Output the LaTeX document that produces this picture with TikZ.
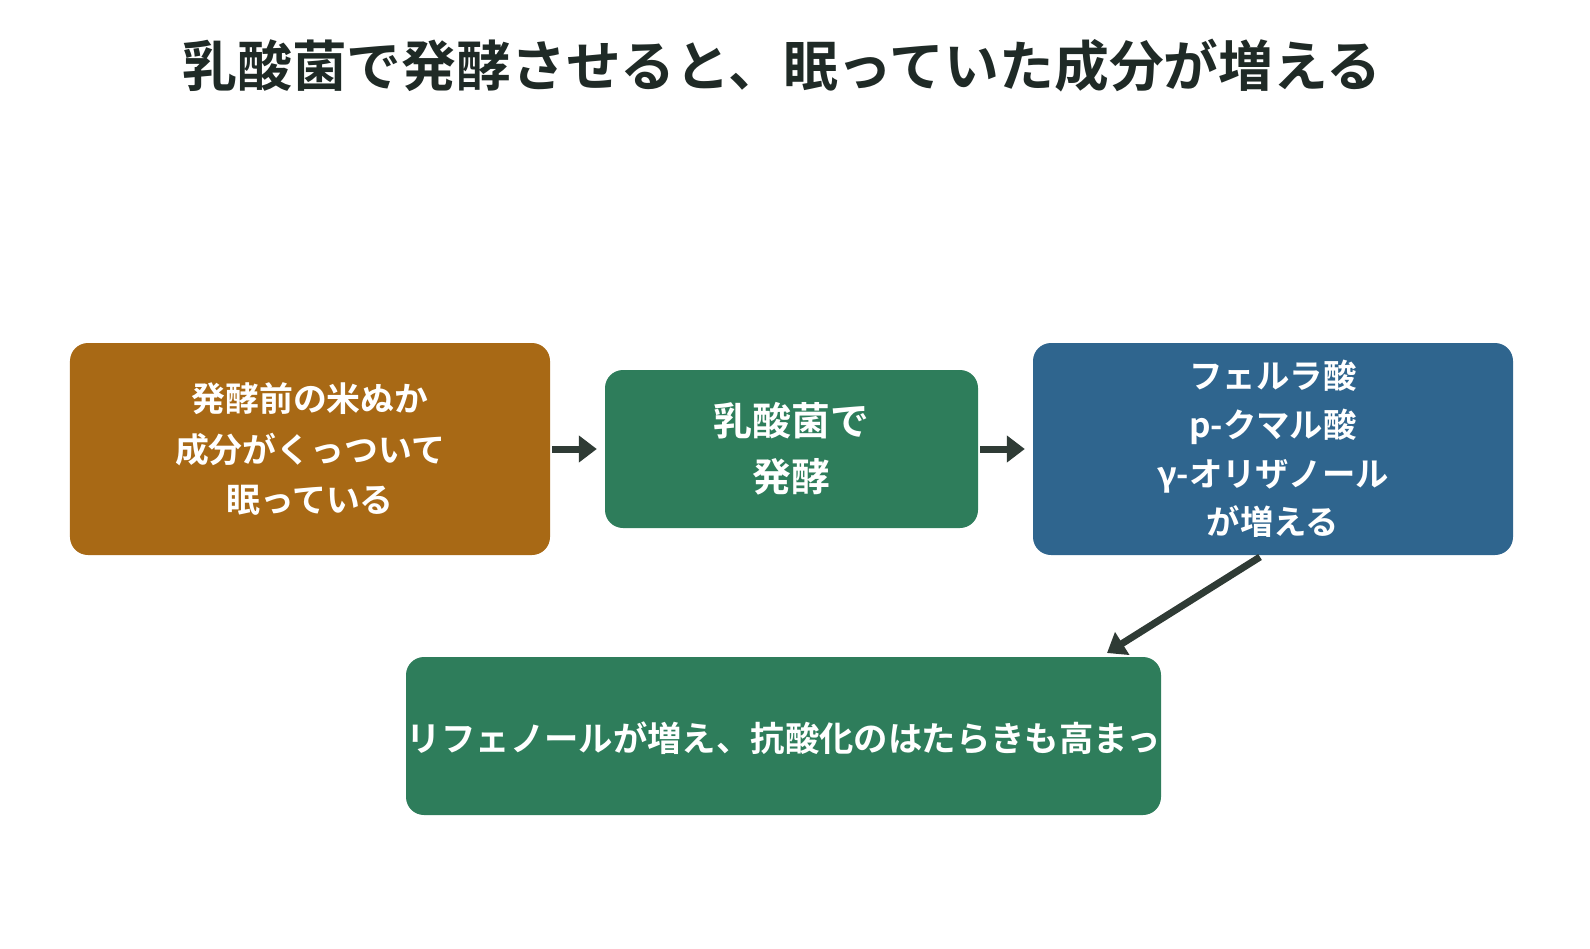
\documentclass[tikz,border=0pt]{standalone}
\usepackage{fontspec}
\setmainfont{Noto Sans CJK JP}[BoldFont={* Bold}]
\usetikzlibrary{arrows.meta}
\definecolor{cbrown}{HTML}{A86915}
\definecolor{cgreen}{HTML}{2E7D5B}
\definecolor{cblue}{HTML}{2F658E}
\definecolor{cdark}{HTML}{2F3B35}
\definecolor{ctitle}{HTML}{1F2A26}
\begin{document}
\begin{tikzpicture}[x=1bp,y=-1bp,
 box/.style={rounded corners=18bp,inner sep=0pt,text=white,font=\bfseries,align=center},
 arr/.style={draw=cdark,line width=7bp,-{Triangle[length=18bp,width=26bp]}}]
\useasboundingbox (0,0) rectangle (1590,948);
\node[font=\bfseries\fontsize{55}{60}\selectfont,text=ctitle] (title) at (782,66) {乳酸菌で発酵させると、眠っていた成分が増える};
\node[box,fill=cbrown,minimum width=480bp,minimum height=212bp,font=\bfseries\fontsize{34}{51}\selectfont] (a) at (310,449) {発酵前の米ぬか\\成分がくっついて\\眠っている};
\node[box,fill=cgreen,minimum width=373bp,minimum height=158bp,font=\bfseries\fontsize{39}{56}\selectfont] (b) at (791.5,449) {乳酸菌で\\発酵};
\node[box,fill=cblue,minimum width=480bp,minimum height=212bp,font=\bfseries\fontsize{33.5}{49}\selectfont] (c) at (1273,449) {フェルラ酸\\p-クマル酸\\γ-オリザノール\\が増える};
\node[box,fill=cgreen,minimum width=755bp,minimum height=158bp] (d) at (783.5,736) {};
\begin{scope}
\clip[rounded corners=18bp] (406,657) rectangle (1161,815);
\node[font=\bfseries\fontsize{34.5}{40}\selectfont,text=white] (dt) at (784,738) {リフェノールが増え、抗酸化のはたらきも高まっ};
\end{scope}
\draw[arr] ([xshift=2bp]a.east) -- ([xshift=-8bp]b.west);
\draw[arr] ([xshift=2bp]b.east) -- ([xshift=-8bp]c.west);
\coordinate (c1) at (1260,557);
\coordinate (d1) at (1107,653);
\draw[arr] (c1) -- (d1);
\end{tikzpicture}
\end{document}
